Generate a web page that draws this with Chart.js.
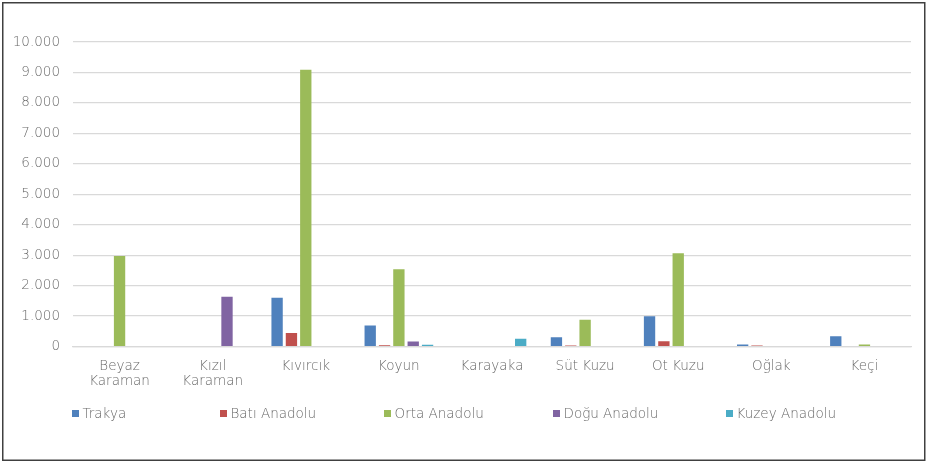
<!DOCTYPE html>
<html><head><meta charset="utf-8">
<script src="https://cdn.jsdelivr.net/npm/chart.js@4"></script>
<style>html,body{margin:0;padding:0;background:#fff}canvas{display:block}</style>
</head><body>
<canvas id="c" width="928" height="464"></canvas>
<script>
const categories = [["Beyaz","Karaman"],["Kızıl","Karaman"],"Kıvırcık","Koyun","Karayaka","Süt Kuzu","Ot Kuzu","Oğlak","Keçi"];
const seriesNames = ["Trakya","Batı Anadolu","Orta Anadolu","Doğu Anadolu","Kuzey Anadolu"];
const trakya = [0,0,1600,690,0,305,990,65,340];
const batiAnadolu = [0,0,440,45,0,35,175,35,0];
const ortaAnadolu = [2975,0,9090,2535,0,880,3060,0,65];
const doguAnadolu = [0,1630,0,165,0,0,0,0,0];
const kuzeyAnadolu = [0,0,0,55,255,0,0,0,0];
const yTicks = [0,1000,2000,3000,4000,5000,6000,7000,8000,9000,10000];

const colors = ["#4F81BD","#C0504D","#9BBB59","#8064A2","#4BACC6"];
const FONT = "'DejaVu Sans', sans-serif";
const TXT = "#6a6a6a";
const legendX = [72,220,384,553,726];

const fmt = v => String(v).replace(/\B(?=(\d{3})+(?!\d))/g, ".");

const frame = {
  id:'frame',
  afterDraw(chart){
    const ctx = chart.ctx;
    ctx.save();
    ctx.strokeStyle = "#404040";
    ctx.lineWidth = 1.5;
    ctx.strokeRect(2.75,2.75,922,457.5);
    ctx.font = "200 13.5px " + FONT;
    ctx.textBaseline = "middle";
    ctx.textAlign = "left";
    chart.data.datasets.forEach((ds,i)=>{
      ctx.fillStyle = ds.backgroundColor;
      ctx.fillRect(legendX[i],410,7,7);
      ctx.fillStyle = TXT;
      ctx.fillText(ds.label, legendX[i]+10.5, 414);
    });
    ctx.restore();
  }
};

const dataSets = [trakya,batiAnadolu,ortaAnadolu,doguAnadolu,kuzeyAnadolu];
new Chart(document.getElementById('c'), {
  type:'bar',
  data:{
    labels:categories,
    datasets:dataSets.map((d,i)=>({label:seriesNames[i],data:d,backgroundColor:colors[i],borderWidth:0,
      categoryPercentage:0.77,barPercentage:0.79}))
  },
  options:{
    responsive:false,
    animation:false,
    layout:{padding:{left:4,right:17,top:42,bottom:0}},
    plugins:{legend:{display:false},tooltip:{enabled:false}},
    scales:{
      x:{
        grid:{display:false,drawTicks:false},
        border:{display:true,color:"#d9d9d9",width:1.2},
        ticks:{color:TXT,font:{family:FONT,size:13.5,weight:200,lineHeight:1.15},padding:12,maxRotation:0,autoSkip:false},
        afterFit(s){s.height=117.5;}
      },
      y:{
        min:0,max:10000,
        afterBuildTicks(s){s.ticks = yTicks.map(v=>({value:v}));},
        grid:{color:"#d9d9d9",lineWidth:1.2,drawTicks:false},
        border:{display:false},
        ticks:{color:TXT,font:{family:FONT,size:13.5,weight:200},padding:13,callback:v=>fmt(v)},
        afterFit(s){s.width=69;}
      }
    }
  },
  plugins:[frame]
});
</script>
</body></html>
